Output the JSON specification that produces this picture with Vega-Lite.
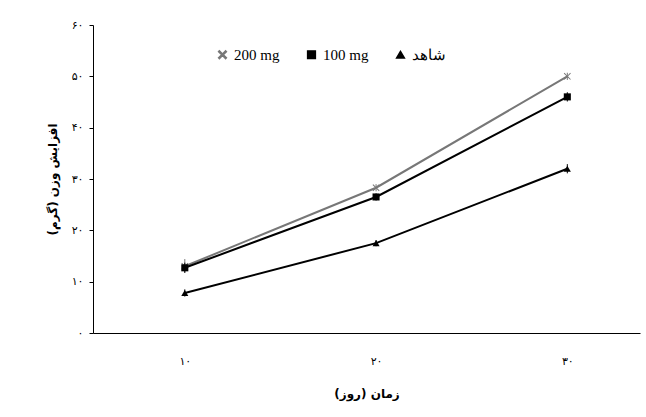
{
"$schema":"https://vega.github.io/schema/vega-lite/v6.json",
"width":547,"height":308,
"autosize":{"type":"none"},
"padding":{"left":93,"top":25,"right":6,"bottom":84},
"background":"white",
"config":{"view":{"stroke":null},"font":"DejaVu Sans","axis":{"grid":false,"domainColor":"black","tickColor":"black","labelColor":"black","titleColor":"black","labelFontSize":11,"titleFontSize":12,"titleFontWeight":"bold"}},
"data":{"values":[
{"day":10,"g":"200 mg","w":13.0,"lo":11.8,"hi":14.4},
{"day":20,"g":"200 mg","w":28.3,"lo":27.6,"hi":29.0},
{"day":30,"g":"200 mg","w":50.0,"lo":49.3,"hi":50.7},
{"day":10,"g":"100 mg","w":12.7,"lo":11.7,"hi":13.7},
{"day":20,"g":"100 mg","w":26.5,"lo":25.8,"hi":27.2},
{"day":30,"g":"100 mg","w":46.0,"lo":45.1,"hi":46.9},
{"day":10,"g":"شاهد","w":7.8,"lo":7.1,"hi":8.5},
{"day":20,"g":"شاهد","w":17.5,"lo":16.9,"hi":18.1},
{"day":30,"g":"شاهد","w":32.0,"lo":31.1,"hi":32.9}
]},
"encoding":{
"x":{"field":"day","type":"quantitative","scale":{"domain":[5.2,33.8],"nice":false},"axis":{"values":[10,20,30],"ticks":false,"labelPadding":22,"title":"زمان (روز)","titlePadding":22,"labelExpr":"datum.value==10?'۱۰':datum.value==20?'۲۰':'۳۰'"}},
"color":{"field":"g","type":"nominal","scale":{"domain":["200 mg","100 mg","شاهد"],"range":["#777777","black","black"]},
"legend":{"orient":"none","legendX":122,"legendY":22,"direction":"horizontal","title":null,"labelFont":"Liberation Serif","labelFontSize":15,"labelColor":"black","columnPadding":24,"symbolSize":60}}
},
"layer":[
{"mark":{"type":"rule","strokeWidth":1},"encoding":{"y":{"field":"lo","type":"quantitative"},"y2":{"field":"hi"}}},
{"mark":{"type":"line","strokeWidth":2},"encoding":{"y":{"field":"w","type":"quantitative","scale":{"domain":[0,60],"nice":false},"axis":{"values":[0,10,20,30,40,50,60],"tickSize":4,"labelPadding":6,"title":"افزایش وزن (گرم)","titlePadding":12,"labelExpr":"datum.value==0?'۰':datum.value==10?'۱۰':datum.value==20?'۲۰':datum.value==30?'۳۰':datum.value==40?'۴۰':datum.value==50?'۵۰':'۶۰'"}}}},
{"mark":{"type":"point","filled":true,"size":50,"opacity":1},"encoding":{"y":{"field":"w","type":"quantitative"},
"shape":{"field":"g","type":"nominal","scale":{"domain":["200 mg","100 mg","شاهد"],"range":["M-1,-0.8L-0.8,-1L0,-0.2L0.8,-1L1,-0.8L0.2,0L1,0.8L0.8,1L0,0.2L-0.8,1L-1,0.8L-0.2,0Z","square","triangle-up"]}}}}
]
}
